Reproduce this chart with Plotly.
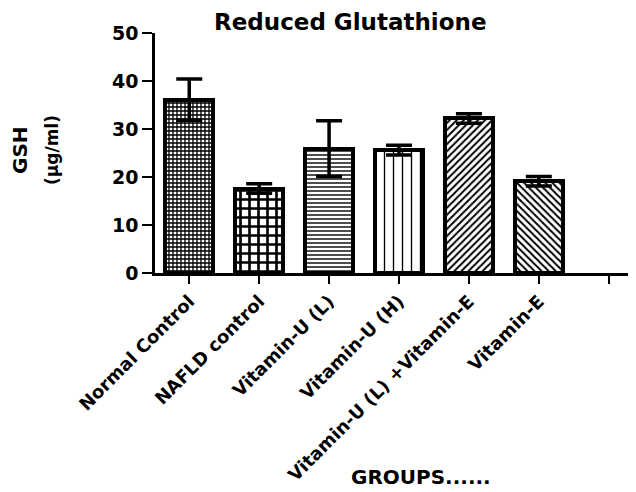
import plotly.graph_objects as go

groups = ["Normal Control", "NAFLD control", "Vitamin-U (L)", "Vitamin-U (H)",
          "Vitamin-U (L) +Vitamin-E", "Vitamin-E"]
gsh_mean = [36.1, 17.6, 25.9, 25.6, 32.2, 19.1]
gsh_err = [4.3, 1.0, 5.8, 1.0, 1.0, 1.0]
tick_labels = groups + [""]

shapes_ = ["+", "+", "-", "|", "/", "\\"]
sizes_ = [4, 9, 4, 9, 5, 5]
solid_ = [0.55, 0.5, 0.35, 0.15, 0.4, 0.4]

FONT = "DejaVu Sans"
fig = go.Figure()
for i, g in enumerate(groups):
    fig.add_trace(go.Bar(
        x=[i], y=[gsh_mean[i]], width=0.68,
        marker=dict(color="white",
                    line=dict(color="black", width=4),
                    pattern=dict(shape=shapes_[i], size=sizes_[i], solidity=solid_[i],
                                 fgcolor="black", bgcolor="white", fillmode="replace")),
        error_y=dict(type="data", array=[gsh_err[i]], visible=True,
                     color="black", thickness=3.5, width=13),
        showlegend=False, name=g))

# page body has an 8px default margin; the figure is sized to fill the rest
OFF = 8
W, H = 636 - OFF, 492 - OFF
L, T = 155 - OFF, 33 - OFF
ph = 240
pw = W - L
B = H - T - ph

def px(x):
    return (x - OFF - L) / pw

def py(y):
    return (T + ph - (y - OFF)) / ph

fig.update_layout(
    width=W, height=H,
    margin=dict(l=L, r=0, t=T, b=B, pad=0, autoexpand=False),
    plot_bgcolor="white", paper_bgcolor="white",
    bargap=0,
    xaxis=dict(range=[-0.49, 6.39], tickvals=list(range(7)), ticktext=tick_labels,
               tickangle=-45, ticks="outside", ticklen=8, tickwidth=2, tickcolor="black",
               showline=True, linecolor="black", linewidth=2.5, showgrid=False,
               zeroline=False, automargin=False,
               tickfont=dict(family=FONT, size=18, color="black", weight="bold")),
    yaxis=dict(range=[0, 50], tickvals=[0, 10, 20, 30, 40, 50],
               ticks="outside", ticklen=10, tickwidth=2, tickcolor="black",
               showline=True, linecolor="black", linewidth=2.5, showgrid=False,
               zeroline=False, automargin=False,
               tickfont=dict(family=FONT, size=19, color="black", weight="bold")),
    annotations=[
        dict(text="Reduced Glutathione", xref="paper", yref="paper",
             x=px(350), y=py(22), showarrow=False, xanchor="center", yanchor="middle",
             font=dict(family=FONT, size=23, color="black", weight="bold")),
        dict(text="GSH", xref="paper", yref="paper", x=px(20), y=py(150),
             showarrow=False, textangle=-90, xanchor="center", yanchor="middle",
             font=dict(family=FONT, size=20, color="black", weight="bold")),
        dict(text="(µg/ml)", xref="paper", yref="paper", x=px(52), y=py(150),
             showarrow=False, textangle=-90, xanchor="center", yanchor="middle",
             font=dict(family=FONT, size=17, color="black", weight="bold")),
        dict(text="GROUPS......", xref="paper", yref="paper", x=px(421), y=py(477),
             showarrow=False, xanchor="center", yanchor="middle", borderpad=0,
             font=dict(family=FONT, size=20, color="black", weight="bold")),
    ],
)

fig.write_html("out.html")
